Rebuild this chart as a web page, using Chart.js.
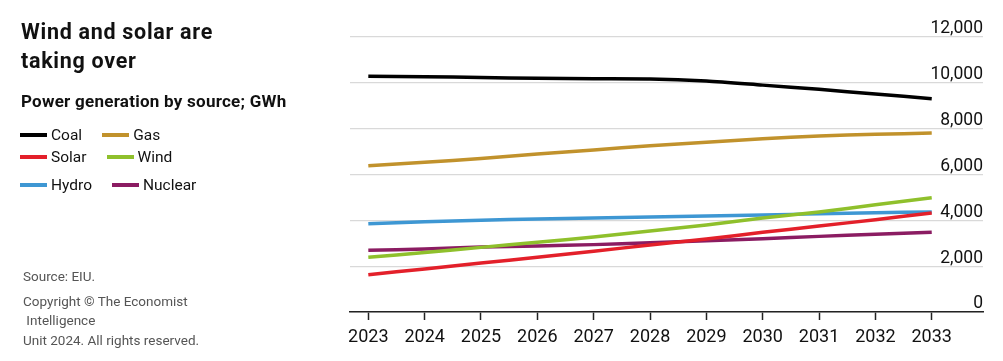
<!DOCTYPE html>
<html>
<head>
<meta charset="utf-8">
<script src="https://cdn.jsdelivr.net/npm/chart.js@4/dist/chart.umd.min.js"></script>
<style>
  html, body { margin: 0; padding: 0; background: #fff; }
  body { width: 1003px; height: 361px; position: relative; overflow: hidden; font-family: Roboto, "Liberation Sans", sans-serif; color: #111; }
  #wrap { position: absolute; left: 0; top: 0; width: 1003px; height: 361px; }
  .abs { position: absolute; white-space: pre; }
  #title { left: 21px; top: 17px; font-size: 21.5px; font-weight: 700; line-height: 29px; color: #111; letter-spacing: 0.7px; }
  #subtitle { left: 21px; top: 91px; font-size: 17px; font-weight: 700; line-height: 20px; color: #111; letter-spacing: 0.25px; }
  .lrow { position: absolute; left: 20px; display: flex; align-items: center; height: 20px; font-size: 15.5px; color: #111; }
  .sw { width: 27px; height: 3.5px; margin-right: 4px; }
  .gap { width: 20px; }
  #src { left: 23px; top: 267px; font-size: 13.5px; color: #555; line-height: 19px; }
  #copy { left: 23px; top: 292px; font-size: 13.5px; color: #555; line-height: 19.3px; }
</style>
</head>
<body>
<div id="wrap"><canvas id="c" width="1003" height="361"></canvas></div>
<div id="title" class="abs">Wind and solar are
taking over</div>
<div id="subtitle" class="abs">Power generation by source; GWh</div>
<div id="legend"></div>
<div id="src" class="abs">Source: EIU.</div>
<div id="copy" class="abs">Copyright © The Economist
 Intelligence
Unit 2024. All rights reserved.</div>
<script>
const years = [2023, 2024, 2025, 2026, 2027, 2028, 2029, 2030, 2031, 2032, 2033];
const yTicks = [0, 2000, 4000, 6000, 8000, 10000, 12000];
const coal    = [10290, 10270, 10235, 10195, 10180, 10170, 10075, 9900, 9720, 9510, 9310];
const gas     = [6385, 6530, 6700, 6895, 7070, 7257, 7405, 7560, 7680, 7755, 7810];
const solar   = [1630, 1875, 2140, 2385, 2650, 2925, 3185, 3480, 3750, 4030, 4320];
const wind    = [2385, 2600, 2820, 3040, 3270, 3535, 3800, 4100, 4365, 4680, 4990];
const hydro   = [3853, 3940, 4000, 4060, 4100, 4145, 4190, 4230, 4290, 4330, 4365];
const nuclear = [2690, 2750, 2835, 2880, 2940, 3025, 3110, 3200, 3300, 3390, 3480];

const seriesNames = ['Coal', 'Gas', 'Solar', 'Wind', 'Hydro', 'Nuclear'];
const seriesData = [coal, gas, solar, wind, hydro, nuclear];
const seriesColors = ['#000000', '#c1922c', '#e3202a', '#8fc02c', '#3e97d3', '#8b1c62'];

// HTML legend rows
const legendRows = [[0, 1, 125], [2, 3, 147], [4, 5, 175]];
const legendEl = document.getElementById('legend');
legendRows.forEach(([a, b, top]) => {
  const row = document.createElement('div');
  row.className = 'lrow';
  row.style.top = top + 'px';
  [a, b].forEach((idx, k) => {
    if (k === 1) { const g = document.createElement('span'); g.className = 'gap'; row.appendChild(g); }
    const sw = document.createElement('span');
    sw.className = 'sw';
    sw.style.background = seriesColors[idx];
    row.appendChild(sw);
    const t = document.createElement('span');
    t.textContent = seriesNames[idx];
    row.appendChild(t);
  });
  legendEl.appendChild(row);
});

const datasets = seriesNames.map((name, i) => ({
  label: name,
  data: years.map((yr, j) => ({ x: yr, y: seriesData[i][j] })),
  borderColor: seriesColors[i],
  backgroundColor: seriesColors[i],
  borderWidth: 3.5,
  pointRadius: 0,
  tension: 0.25,
  fill: false
}));

new Chart(document.getElementById('c'), {
  type: 'line',
  data: { datasets },
  options: {
    responsive: false,
    animation: false,
    events: [],
    layout: { padding: { left: 350, right: 20, top: 37, bottom: 0 } },
    plugins: { legend: { display: false }, tooltip: { enabled: false } },
    scales: {
      x: {
        type: 'linear',
        min: 2022.675,
        max: 2033.91,
        afterBuildTicks: s => { s.ticks = years.map(v => ({ value: v })); },
        afterFit: s => { s.height = 49; },
        grid: { drawOnChartArea: false, drawTicks: true, tickLength: 8, tickColor: '#222', tickWidth: 1.5 },
        border: { display: true, color: '#222', width: 1.5 },
        ticks: {
          font: { family: 'Roboto', size: 18 },
          color: '#111',
          padding: 7,
          maxRotation: 0,
          autoSkip: false,
          callback: v => String(v)
        }
      },
      y: {
        position: 'right',
        min: 0,
        max: 12000,
        afterBuildTicks: s => { s.ticks = yTicks.map(v => ({ value: v })); },
        grid: { color: '#d9d9d9', lineWidth: 1.3, drawTicks: false },
        border: { display: false },
        ticks: {
          mirror: true,
          padding: 0,
          labelOffset: -8,
          font: { family: 'Roboto', size: 17.5 },
          color: '#111',
          callback: v => v.toLocaleString('en-US')
        }
      }
    }
  }
});
</script>
</body>
</html>
